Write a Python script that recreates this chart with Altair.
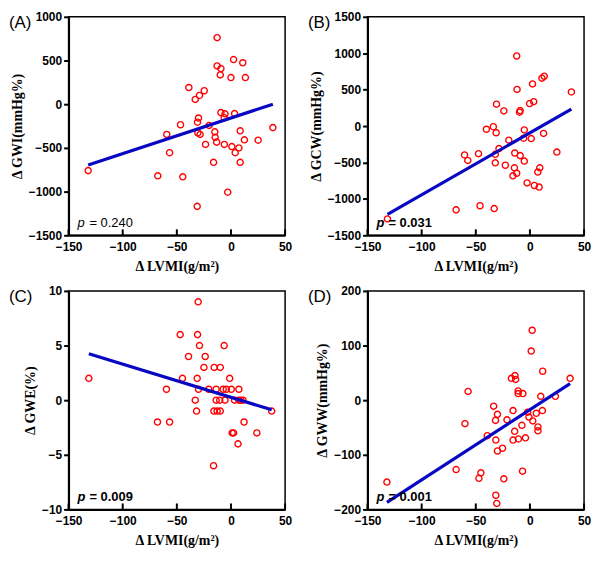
import altair as alt
import pandas as pd

# ---------------- data ----------------
lvmi_a = [-131.9, -67.6, -59.3, -56.7, -46.6, -44.5, -38.9, -33.0, -29.1, -24.7, -30.0,
          -30.9, -30.6, -28.5, -31.2, -23.5, -20.2, -16.1, -14.9, -14.6, -13.2, -12.8,
          -12.8, -9.3, -9.9, -9.3, -5.5, -6.3, -6.1, -3.0, 0.0, 0.8, 2.4, 3.3, 3.9, 7.3,
          8.5, 8.5, 10.9, 12.4, 13.3, 25.1, 38.7]
gwi = [-760, -820, -346, -555, -235, -831, 191, 55, 100, 154, -158,
       -206, -327, -346, -1169, -460, -243, -665, -316, -379, -434, 761,
       438, 408, 335, -96, -110, -154, -460, -1007, 305, -485, 511, -107, -555, -500,
       -305, -665, 474, -408, 305, -412, -268]

lvmi_b = [-131.6, -68.2, -60.4, -57.4, -47.5, -46.1, -40.2, -33.8, -30.9, -31.2, -32.0,
          -32.0, -33.0, -28.6, -24.1, -22.7, -19.5, -15.7, -14.3, -14.0, -12.2, -11.9,
          -12.2, -9.6, -9.0, -9.0, -5.2, -5.8, -5.2, -2.6, -0.3, 1.2, 2.4, 3.5, 4.1, 7.3,
          8.5, 9.1, 11.1, 13.2, 12.6, 24.9, 38.3]
gcw = [-1275, -1151, -397, -472, -379, -1094, -44, -9, 300, -92, -388,
       -505, -1133, -309, 208, -538, -194, -684, -573, -370, 962, 503,
       -648, 190, 212, -406, -53, -167, -481, -781, 309, -172, 578, 335, -816, -631,
       -838, -573, 657, 684, -101, -357, 468]

lvmi_c = [-131.3, -67.9, -59.6, -56.7, -46.9, -44.8, -39.2, -33.0, -30.3, -30.9, -29.1,
          -31.2, -30.0, -31.8, -25.0, -23.8, -20.5, -16.1, -15.5, -15.8, -13.7, -13.7,
          -12.8, -10.4, -9.9, -9.9, -7.2, -6.3, -5.5, -4.3, -1.2, 0.3, 1.1, 2.4, 3.3, 6.5,
          7.3, 7.3, 9.1, 11.2, 12.1, 23.9, 37.6]
gwe = [2, -2, 1, -2, 6, 2, 4, 0, 9, 6, 5,
       2, 1, -1, 3, 4, 1, -6, 3, -1, 1, 0,
       -1, 0, 3, -1, 1, 5, 0, 1, 2, 1, -3, -3, 0, -4,
       1, 0, 0, 0, -2, -3, -1]

lvmi_d = [-132.1, -68.2, -60.0, -57.1, -47.1, -45.3, -39.4, -33.5, -31.8, -30.0, -31.5,
          -30.0, -31.5, -30.6, -25.3, -24.1, -21.2, -17.1, -15.6, -15.6, -13.8, -13.2,
          -14.1, -10.9, -10.9, -10.6, -7.4, -6.5, -6.8, -4.1, -2.1, -0.9, 1.2, 2.1, 2.6, 5.9,
          7.4, 7.4, 10.0, 11.5, 11.8, 23.5, 37.1]
gww = [-150, -127, -43, 16, -143, -133, -65, -11, -37, -26, -73,
       -93, -174, -189, -88, -144, -36, 40, -19, -73, 45, 38,
       -57, 17, 12, -71, -46, 12, -130, -69, -22, -31, 90, 128, -38, -24,
       -49, -56, 7, -19, 53, 7, 40]

x_ticks = [-150, -100, -50, 0, 50]
panels = [
    ("(A)", lvmi_a, gwi, "Δ GWI(mmHg%)", [-1500, 1000], [-1500, -1000, -500, 0, 500, 1000], "0.240", "normal"),
    ("(B)", lvmi_b, gcw, "Δ GCW(mmHg%)", [-1500, 1500], [-1500, -1000, -500, 0, 500, 1000, 1500], "0.031", "bold"),
    ("(C)", lvmi_c, gwe, "Δ GWE(%)", [-10, 10], [-10, -5, 0, 5, 10], "0.009", "bold"),
    ("(D)", lvmi_d, gww, "Δ GWW(mmHg%)", [-200, 200], [-200, -100, 0, 100, 200], "0.001", "bold"),
]

W, H = 218, 220
SANS = "Liberation Sans"
SERIF = "Liberation Serif"
RED = "#ff0000"
BLUE = "#0808c4"


def panel(label, xs, ys, ytitle, ydom, yvals, pval, weight):
    df = pd.DataFrame({"x": xs, "y": ys})
    ticks = pd.DataFrame({"x": x_ticks})
    one = pd.DataFrame({"k": [0]})
    xscale = alt.Scale(domain=[x_ticks[0], x_ticks[-1]], nice=False, zero=False)
    yscale = alt.Scale(domain=ydom, nice=False, zero=False)
    common = dict(grid=False, labelOverlap=False, labelFlush=False, format="d",
                  labelFont=SANS, labelFontSize=12, labelFontWeight="bold",
                  labelColor="black", titleFont=SERIF, titleFontSize=14,
                  titleFontWeight="bold", titleColor="black")
    xaxis = alt.Axis(values=x_ticks, title="Δ LVMI(g/m²)", tickSize=0, labelPadding=6,
                     titlePadding=7, **common)
    yaxis = alt.Axis(values=yvals, title=ytitle, tickSize=5, labelPadding=2,
                     titlePadding=4, **common)

    base = alt.Chart(df)
    pts = base.mark_point(shape="circle", filled=False, color=RED, size=38,
                          strokeWidth=1.4, opacity=1).encode(
        x=alt.X("x:Q", scale=xscale, axis=xaxis),
        y=alt.Y("y:Q", scale=yscale, axis=yaxis),
    )
    line = base.transform_regression("x", "y").mark_line(color=BLUE, strokeWidth=3.2).encode(
        x=alt.X("x:Q", scale=xscale, axis=xaxis), y=alt.Y("y:Q", scale=yscale, axis=yaxis))
    tk = alt.Chart(ticks).mark_rule(color="black", strokeWidth=2).encode(
        x=alt.X("x:Q", scale=xscale, axis=xaxis), y=alt.value(H), y2=alt.value(H - 6))
    p1 = alt.Chart(one).mark_text(text="p", font=SANS, fontSize=13, fontStyle="italic",
                                  fontWeight=weight, align="left", baseline="middle",
                                  color="black").encode(x=alt.value(9), y=alt.value(H - 12))
    p2 = alt.Chart(one).mark_text(text="= " + pval, font=SANS, fontSize=13,
                                  fontWeight=weight, align="left", baseline="middle",
                                  color="black").encode(x=alt.value(21), y=alt.value(H - 12))
    lab = alt.Chart(one).mark_text(text=label, font=SANS, fontSize=17, align="left",
                                   baseline="middle", color="black").encode(
        x=alt.value(-60), y=alt.value(6))
    return alt.layer(pts, line, tk, p1, p2, lab).properties(width=W, height=H)


charts = [panel(*p) for p in panels]
top = alt.hconcat(charts[0], charts[1], spacing=14)
bot = alt.hconcat(charts[2], charts[3], spacing=14)
chart = alt.vconcat(top, bot, spacing=10).properties(padding=0).configure_view(
    stroke="black", strokeWidth=1.5
).configure_axis(
    domainColor="black", domainWidth=2, tickColor="black", tickWidth=2,
)

chart.save("out.html", embed_options={"renderer": "svg", "actions": False})
